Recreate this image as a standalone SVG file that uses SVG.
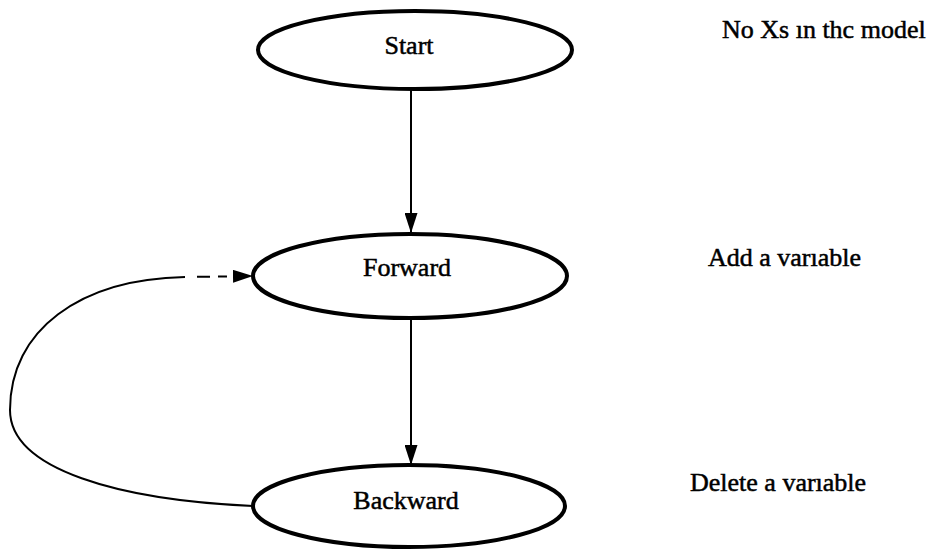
<svg xmlns="http://www.w3.org/2000/svg" width="936" height="555" viewBox="0 0 936 555">
<style>
.node{fill:#fff;stroke:#000;stroke-width:4}
.lbl{font-family:"Liberation Serif","Times New Roman",serif;font-size:26px;fill:#000;stroke:#000;stroke-width:0.5}
.c{fill:none;stroke:#000;stroke-width:2}
</style>
<defs>
<marker id="ah" markerWidth="20" markerHeight="13" refX="20" refY="6.5" orient="auto" markerUnits="userSpaceOnUse">
<path d="M0,0 L20,6.5 L0,13 Z" fill="#000"/>
</marker>
</defs>
<rect width="936" height="555" fill="#fff"/>
<g id="connectors">
<line class="c" x1="411" y1="89" x2="411" y2="233" marker-end="url(#ah)"/>
<line class="c" x1="411" y1="318" x2="411" y2="465" marker-end="url(#ah)"/>
<path class="c" d="M253,506 C120,500 10,470 10,410 C10,330 80,279 185,277"/>
<path class="c" d="M185,277 L253,276" stroke-dasharray="0 12 13 8 9 40" marker-end="url(#ah)"/>
</g>
<g id="start">
<ellipse class="node" cx="415" cy="50" rx="157" ry="39"/>
<text class="lbl" x="409" y="54" text-anchor="middle">Start</text>
</g>
<g id="forward">
<ellipse class="node" cx="410" cy="276" rx="157" ry="42"/>
<text class="lbl" x="407" y="276" text-anchor="middle">Forward</text>
</g>
<g id="backward">
<ellipse class="node" cx="409" cy="506" rx="156" ry="41"/>
<text class="lbl" x="406" y="509" text-anchor="middle">Backward</text>
</g>
<g id="notes">
<text class="lbl" x="722" y="38">No Xs ın thc model</text>
<text class="lbl" x="708" y="266">Add a varıable</text>
<text class="lbl" x="690" y="491">Delete a varıable</text>
</g>
</svg>
